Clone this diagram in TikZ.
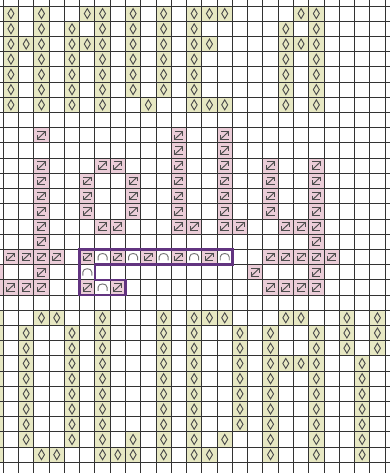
\documentclass[tikz,border=0pt]{standalone}
\usepackage{tikz}
\definecolor{yel}{RGB}{231,232,195}
\definecolor{pnk}{RGB}{235,205,216}
\definecolor{boxpurple}{RGB}{98,52,128}
\tikzset{
  gridline/.style={draw=black!80,line width=0.65},
  symline/.style={draw=black!70,line width=0.7,line join=miter},
  archline/.style={draw=black!55,line width=0.7},
  diam/.pic={\draw[symline] (0,-5)--(3,0)--(0,5)--(-3,0)--cycle;},
  twist/.pic={\draw[symline] (-4,-3.8)--(4,-3.8)--(4,0.5);
              \draw[symline] (3.5,-3.3)--(-3.5,3.3);
              \draw[symline] (-4,-0.5)--(-4,3.8)--(4,3.8);},
  archsym/.pic={\draw[archline] (-4.5,3.5)--(-4.5,0) .. controls (-4.5,-4.6) and (4.5,-4.6) .. (4.5,0)--(4.5,3.5);}
}
\newcommand\cellY[2]{%
  \fill[yel] ({3.3+15.27*(#1)},{6+15.21*(#2)}) rectangle ++(15.27,15.21);
  \path ({3.3+15.27*(#1+0.5)},{6+15.21*(#2+0.5)}) pic{diam};}
\newcommand\cellP[2]{%
  \fill[pnk] ({3.3+15.27*(#1)},{6+15.21*(#2)}) rectangle ++(15.27,15.21);
  \path ({3.3+15.27*(#1+0.5)},{6+15.21*(#2+0.5)}) pic{twist};}
\newcommand\cellA[2]{%
  \path ({3.3+15.27*(#1+0.5)},{6+15.21*(#2+0.5)}) pic{archsym};}
\begin{document}
\begin{tikzpicture}[x=0.75pt,y=-0.75pt]
\useasboundingbox (0,0) rectangle (390,473);
\fill[white] (0,0) rectangle (390,473);
\clip (0,0) rectangle (390,473);
% top yellow letters
\foreach \c/\rs in {0/{0,...,6},1/{2},2/{0,...,6},4/{1,...,6},5/{0,2},6/{0,...,6},
  8/{0,...,5},9/{6},10/{0,...,5},12/{0,...,6},13/{0,2,6},14/{0,6},
  18/{1,...,6},19/{0,2},20/{0,...,6}}
  \foreach \r in \rs {\cellY{\c}{\r}}
% bottom yellow letters
\foreach \c/\rs in {-1/{20,...,29},1/{21,...,28},2/{20,29},3/{20,29},4/{21,...,28},
  6/{20,...,29},7/{29},8/{28,29},10/{20,...,29},12/{20,...,29},13/{20,29},14/{20,28},
  15/{21,...,27},17/{21,...,29},18/{20,23},19/{20,23},20/{21,...,29},
  22/{20,21,22},23/{23,...,29},24/{20,21,22}}
  \foreach \r in \rs {\cellY{\c}{\r}}
% pink letters
\foreach \c/\rs in {-1/{17,18},0/{16,18},1/{16,18},2/{8,10,11,12,13,14,15,16,17,18},3/{16},
  5/{11,12,13,16,18},6/{10,14},7/{10,14,16,18},8/{11,12,13},9/{16},
  11/{8,...,14,16},12/{14},13/{16},14/{8,...,14},15/{14},16/{17},
  17/{10,11,12,13,16,18},18/{14,16,18},19/{14,16,18},20/{10,...,18},21/{16}}
  \foreach \r in \rs {\cellP{\c}{\r}}
% arch symbols
\foreach \c/\r in {6/16,8/16,10/16,12/16,14/16,5/17,6/18}
  {\cellA{\c}{\r}}
% grid
\foreach \k in {0,...,25}
  \draw[gridline] ({3.3+15.27*\k},0) -- ({3.3+15.27*\k},473);
\foreach \j in {0,...,30}
  \draw[gridline] (0,{6+15.21*\j}) -- (390,{6+15.21*\j});
% purple outline
\coordinate (b1) at ({3.3+15.27*5},{6+15.21*16});
\coordinate (b2) at ({3.3+15.27*15},{6+15.21*16});
\coordinate (b3) at ({3.3+15.27*15},{6+15.21*17});
\coordinate (b4) at ({3.3+15.27*6},{6+15.21*17});
\coordinate (b5) at ({3.3+15.27*6},{6+15.21*18});
\coordinate (b6) at ({3.3+15.27*8},{6+15.21*18});
\coordinate (b7) at ({3.3+15.27*8},{6+15.21*19});
\coordinate (b8) at ({3.3+15.27*5},{6+15.21*19});
\draw[boxpurple,line width=1.8,line join=miter] (b1)--(b2)--(b3)--(b4)--(b5)--(b6)--(b7)--(b8)--cycle;
\end{tikzpicture}
\end{document}
